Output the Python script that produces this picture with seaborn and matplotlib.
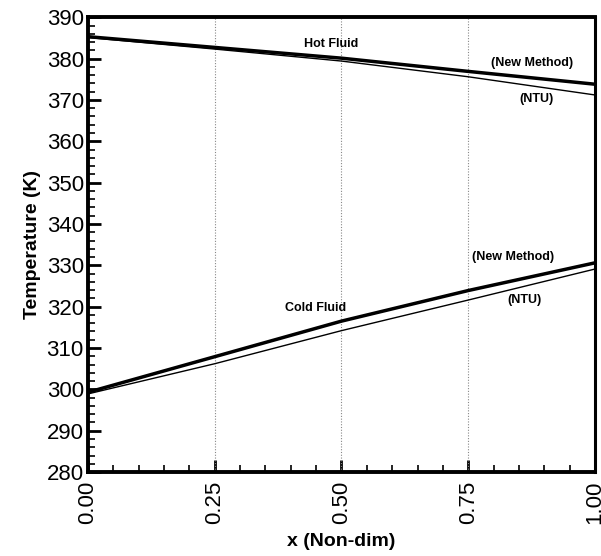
import numpy as np
import pandas as pd
import matplotlib
matplotlib.use("Agg")
import matplotlib.pyplot as plt
import seaborn as sns
from matplotlib.ticker import MultipleLocator

x_pos = [0.0, 0.25, 0.5, 0.75, 1.0]
hot_new = [385.3, 382.7, 380.1, 376.9, 373.8]
hot_ntu = [385.1, 382.3, 379.4, 375.6, 371.2]
cold_new = [299.3, 307.9, 316.5, 323.9, 330.6]
cold_ntu = [298.9, 306.2, 314.2, 321.6, 329.1]

labels = [
    ("Hot Fluid", 0.48, 383.6),
    ("(New Method)", 0.876, 378.9),
    ("(NTU)", 0.885, 370.2),
    ("Cold Fluid", 0.448, 319.6),
    ("(New Method)", 0.838, 332.0),
    ("(NTU)", 0.86, 321.6),
]

sns.set_style("white")
plt.rcParams['font.family'] = ['Liberation Sans', 'DejaVu Sans']
plt.rcParams['text.color'] = 'black'
plt.rcParams['axes.labelcolor'] = 'black'
plt.rcParams['xtick.color'] = 'black'
plt.rcParams['ytick.color'] = 'black'

df = pd.DataFrame({
    "x": x_pos * 4,
    "T": hot_new + hot_ntu + cold_new + cold_ntu,
    "series": ["hot_new"] * 5 + ["hot_ntu"] * 5 + ["cold_new"] * 5 + ["cold_ntu"] * 5,
})

fig = plt.figure(figsize=(6.01, 5.56), dpi=100)
ax = fig.add_axes([0.1464, 0.151, 0.8436, 0.818])

for s, lw in [("hot_new", 2.5), ("hot_ntu", 1.0), ("cold_new", 2.5), ("cold_ntu", 1.0)]:
    sns.lineplot(data=df[df.series == s], x="x", y="T", ax=ax, color="black",
                 linewidth=lw, legend=False, zorder=3)

for xv in [0.25, 0.5, 0.75]:
    ax.axvline(xv, color="#888888", linestyle=(0, (1, 1.5)), linewidth=0.8, zorder=1)

for txt, tx, ty in labels:
    ax.text(tx, ty, txt, fontsize=9, fontweight="bold", ha="center", va="center",
            color="black")

ax.set_xlim(0, 1)
ax.set_ylim(280, 390)
ax.set_xticks([0, 0.25, 0.5, 0.75, 1.0])
ax.set_xticklabels(["0.00", "0.25", "0.50", "0.75", "1.00"], rotation=90)
ax.xaxis.set_minor_locator(MultipleLocator(0.05))
ax.yaxis.set_major_locator(MultipleLocator(10))
ax.yaxis.set_minor_locator(MultipleLocator(2))
ax.tick_params(axis="both", which="major", direction="in", length=9, width=2,
               labelsize=16, bottom=True, left=True, top=False, right=False,
               colors="black")
ax.tick_params(axis="both", which="minor", direction="in", length=5, width=1.2,
               bottom=True, left=True, top=False, right=False, colors="black")
ax.tick_params(axis="x", which="major", pad=6)
ax.tick_params(axis="y", which="major", pad=3)

for side, w in [("left", 2.8), ("bottom", 2.8), ("top", 2.8), ("right", 2.2)]:
    ax.spines[side].set_visible(True)
    ax.spines[side].set_linewidth(w)
    ax.spines[side].set_color("black")

ax.set_xlabel("x (Non-dim)", fontsize=14, fontweight="bold", labelpad=7)
ax.set_ylabel("Temperature (K)", fontsize=14, fontweight="bold", labelpad=4)

fig.savefig("out.png", dpi=100, facecolor="white")
